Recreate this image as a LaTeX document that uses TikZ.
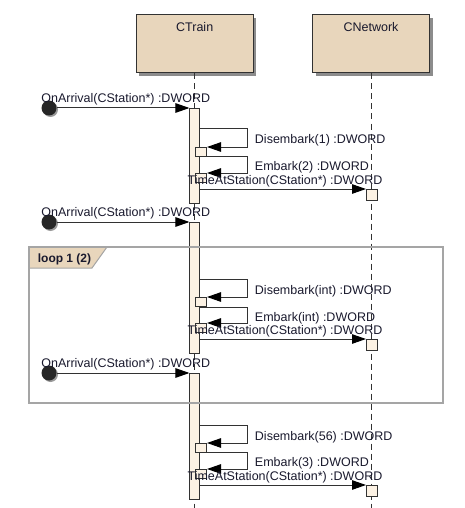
\documentclass[tikz,border=0pt]{standalone}
\usepackage{fontspec}
\setmainfont{Liberation Sans}
\usepackage{xcolor}
\usetikzlibrary{calc, arrows.meta, shadows}

\definecolor{hdrfill}{RGB}{232,214,188}
\definecolor{barfill}{RGB}{252,242,228}
\definecolor{framegray}{RGB}{165,165,165}
\definecolor{inkgray}{RGB}{50,50,50}
\definecolor{txtcol}{RGB}{25,25,45}

\begin{document}
\begin{tikzpicture}[x=1pt, y=-1pt, line width=1pt, font=\fontsize{12.5}{14}\selectfont, text=txtcol,
    header/.style={rectangle, draw=inkgray, fill=hdrfill, minimum width=117pt, inner xsep=0pt, inner ysep=4pt, text height=12.3pt, text depth=37.7pt, drop shadow={shadow xshift=3pt, shadow yshift=-3pt, fill=black!45, opacity=1}},
    life/.style={draw=inkgray, dash pattern=on 6pt off 4pt},
    bar/.style={rectangle, draw=inkgray, fill=barfill, minimum width=9.5pt, inner sep=0pt, anchor=north},
    call/.style={rectangle, draw=inkgray, fill=barfill, minimum width=11pt, minimum height=9pt, inner sep=0pt, anchor=north west},
    start/.style={circle, fill=black!85, minimum size=15pt, inner sep=0pt, drop shadow={shadow xshift=1.5pt, shadow yshift=-1.5pt, fill=black!40, opacity=1}},
    msg/.style={draw=inkgray, -{Triangle[length=14pt, width=9.5pt, color=black]}},
    lbl/.style={inner sep=1pt}]

        \useasboundingbox (0,0) rectangle (465,508);

        %% Lifeline heads
        \node (train) [header] at (194.7,44) {CTrain};
        \node (network) [header] at (371,44) {CNetwork};
        \coordinate (bottom) at (0,508);

        %% Lifelines
        \draw [life] (train.south) -- (train.south |- bottom);
        \draw [life] (network.south) -- (network.south |- bottom);

        %% Activations
        \node (bar1) [bar, minimum height=95pt] at (194.7,108) {};
        \node (bar2) [bar, minimum height=131pt] at (194.7,222) {};
        \node (bar3) [bar, minimum height=126pt] at (194.7,373) {};

        %% Nested calls
        \node (dis1) [call] at (195,147) {};
        \node (emb1) [call] at (195,173) {};
        \node (dis2) [call] at (195,297) {};
        \node (emb2) [call] at (195,323) {};
        \node (dis3) [call] at (195,443) {};
        \node (emb3) [call] at (195,469) {};
        \node (tas1) [call, minimum height=11pt] at (366,189) {};
        \node (tas2) [call, minimum height=11pt] at (366,339) {};
        \node (tas3) [call, minimum height=11pt] at (366,485) {};

        %% Loop frame
        \draw [draw=framegray, fill=hdrfill] (29,247) -- (107,247) -- (92,268) -- (29,268) -- cycle;
        \draw [draw=framegray, line width=2pt] (29,247) rectangle (443,403);
        \node (looplbl) [anchor=west, font=\fontsize{12}{14}\selectfont\bfseries] at (34,259.5) {loop 1 (2)};

        %% Start points
        \node (arr1) [start] at (49,108) {};
        \node (arr2) [start] at (49,222) {};
        \node (arr3) [start] at (49,373) {};

        %% Arrivals
        \draw [msg] (arr1) -- (bar1.north west) node [lbl, midway, above, xshift=2.5pt, yshift=1.5pt] {OnArrival(CStation*) :DWORD};
        \draw [msg] (arr2) -- (bar2.north west) node [lbl, midway, above, xshift=2.5pt, yshift=1.5pt] {OnArrival(CStation*) :DWORD};
        \draw [msg] (arr3) -- (bar3.north west) node [lbl, midway, above, xshift=2.5pt, yshift=1.5pt] {OnArrival(CStation*) :DWORD};

        %% First stop
        \draw [msg] ($(bar1.east |- dis1.north) + (0,-19)$) -- ++(47.5,0) |- (dis1.north east) node [lbl, pos=0.25, anchor=west, xshift=6pt, yshift=-3pt] {Disembark(1) :DWORD};
        \draw [msg] ($(bar1.east |- emb1.north) + (0,-17)$) -- ++(47.5,0) |- (emb1.north east) node [lbl, pos=0.25, anchor=west, xshift=6pt, yshift=-3pt] {Embark(2) :DWORD};
        \draw [msg] (bar1.east |- tas1.north) -- (tas1.north west) node [lbl, midway, above, xshift=2pt] {TimeAtStation(CStation*) :DWORD};

        %% Stops in the loop
        \draw [msg] ($(bar2.east |- dis2.north) + (0,-18)$) -- ++(47.5,0) |- (dis2.north east) node [lbl, pos=0.25, anchor=west, xshift=6pt, yshift=-3pt] {Disembark(int) :DWORD};
        \draw [msg] ($(bar2.east |- emb2.north) + (0,-16)$) -- ++(47.5,0) |- (emb2.north east) node [lbl, pos=0.25, anchor=west, xshift=6pt, yshift=-3pt] {Embark(int) :DWORD};
        \draw [msg] (bar2.east |- tas2.north) -- (tas2.north west) node [lbl, midway, above, xshift=2pt] {TimeAtStation(CStation*) :DWORD};

        %% Last stop
        \draw [msg] ($(bar3.east |- dis3.north) + (0,-18)$) -- ++(47.5,0) |- (dis3.north east) node [lbl, pos=0.25, anchor=west, xshift=6pt, yshift=-3pt] {Disembark(56) :DWORD};
        \draw [msg] ($(bar3.east |- emb3.north) + (0,-17)$) -- ++(47.5,0) |- (emb3.north east) node [lbl, pos=0.25, anchor=west, xshift=6pt, yshift=-3pt] {Embark(3) :DWORD};
        \draw [msg] (bar3.east |- tas3.north) -- (tas3.north west) node [lbl, midway, above, xshift=2pt] {TimeAtStation(CStation*) :DWORD};

    \end{tikzpicture}
\end{document}
